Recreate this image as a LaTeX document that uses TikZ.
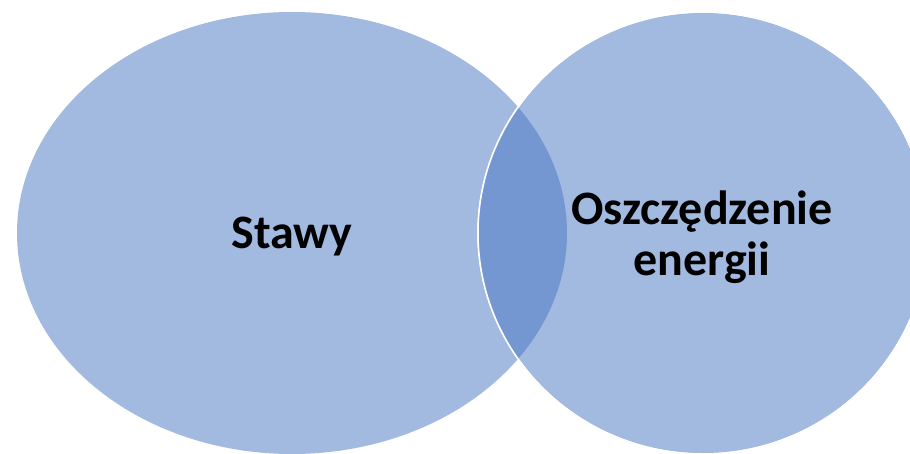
\documentclass[tikz,border=0pt]{standalone}
\usepackage{fontspec}
\setmainfont{Carlito}
\definecolor{setfill}{HTML}{A2B9E0}
\definecolor{setmeet}{HTML}{7497D1}
\newcommand{\setlabel}[1]{{\fontsize{48}{51}\selectfont\bfseries #1}}

\begin{document}
\begin{tikzpicture}[x=1pt,y=-1pt]
  \useasboundingbox (0,0) rectangle (910,453);
  \fill[setfill] (292,233) ellipse [x radius=275,y radius=221];
  \filldraw[fill=setfill,draw=white,line width=1.5pt] (703,233) ellipse [x radius=225,y radius=221];
  \begin{scope}
    \clip (292,233) ellipse [x radius=275,y radius=221];
    \fill[setmeet] (703,233) ellipse [x radius=225,y radius=221];
  \end{scope}
  \draw[white,line width=1.5pt] (703,233) ellipse [x radius=225,y radius=221];
  \node (stawy) [inner sep=0pt,anchor=base] at (292,248) {\setlabel{Stawy}};
  \node (energia) [inner sep=0pt,align=center,font=\fontsize{48}{51}\selectfont\bfseries] at (702,237) {Oszczędzenie\\energii};
\end{tikzpicture}
\end{document}
